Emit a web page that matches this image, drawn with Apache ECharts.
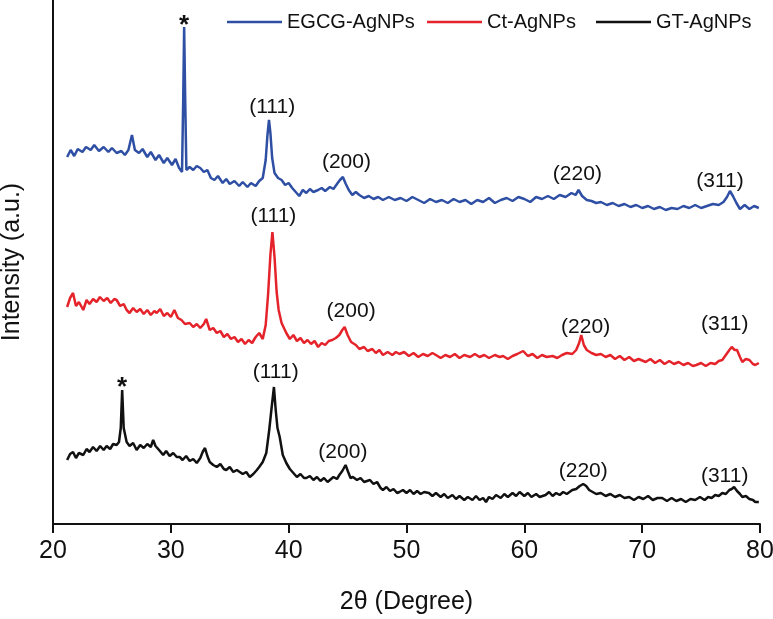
<!DOCTYPE html>
<html>
<head>
<meta charset="utf-8">
<script src="https://cdn.jsdelivr.net/npm/echarts@6/dist/echarts.min.js"></script>
<style>
html,body{margin:0;padding:0;background:#fff;}
#chart{width:773px;height:619px;}
</style>
</head>
<body>
<div id="chart"></div>
<script>
// X axis ticks
const xTicks = [20, 30, 40, 50, 60, 70, 80];
const seriesNames = ['EGCG-AgNPs', 'Ct-AgNPs', 'GT-AgNPs'];

// EGCG-AgNPs (offset trace, arbitrary units)
const egcgAngle = [21.2,21.5,21.8,22.1,22.5,22.8,23.2,23.5,23.9,24.3,24.7,25.0,25.4,25.8,26.1,26.4,26.7,26.95,27.3,27.6,28.0,28.3,28.7,29.0,29.4,29.7,30.1,30.4,30.7,30.95,31.05,31.13,31.22,31.32,31.6,31.9,32.2,32.5,32.8,33.1,33.4,33.7,34.0,34.4,34.7,35.0,35.4,35.8,36.1,36.5,36.8,37.2,37.5,37.8,38.05,38.2,38.33,38.45,38.6,38.8,39.1,39.4,39.7,40.0,40.3,40.6,40.9,41.2,41.5,41.8,42.1,42.5,42.8,43.1,43.5,43.8,44.1,44.35,44.6,44.85,45.1,45.4,45.7,46.0,46.4,46.8,47.2,47.6,48.0,48.5,49,49.5,50,50.5,51,51.5,52,52.5,53,53.5,54,54.5,55,55.5,56,56.5,57,57.5,58,58.5,59,59.5,60,60.5,61,61.5,62,62.5,63,63.5,64,64.35,64.6,64.9,65.3,65.7,66.1,66.5,67,67.5,68,68.5,69,69.5,70,70.5,71,71.5,72,72.5,73,73.5,74,74.5,75,75.5,76,76.5,76.9,77.2,77.45,77.7,78.0,78.3,78.7,79.1,79.5,79.9];
const egcgIntensity = [383,390,384,391,388,393,390,395,389,393,388,392,387,389,385,390,405,390,387,391,383,388,380,385,377,382,375,381,372,368,440,513,440,370,373,370,374,372,368,370,362,360,364,357,361,356,359,354,358,353,357,354,359,362,380,405,420,407,382,367,362,360,355,357,352,348,344,350,347,351,348,350,352,349,353,351,356,360,363,356,350,345,348,345,342,344,341,343,340,343,340,342,339,343,340,337,341,338,340,337,341,338,340,336,340,338,342,337,340,342,339,343,341,338,343,341,344,341,345,343,347,345,350,344,340,339,337,338,335,337,334,336,333,335,332,334,331,333,330,332,331,334,332,335,332,334,336,335,338,343,349,344,337,331,335,331,334,332];

// Ct-AgNPs
const ctAngle = [21.2,21.45,21.7,21.95,22.2,22.57,22.85,23.1,23.4,23.7,23.98,24.3,24.6,24.9,25.2,25.4,25.7,26.0,26.25,26.5,26.8,27.1,27.4,27.7,28.0,28.3,28.6,28.8,29.1,29.4,29.7,30.0,30.3,30.6,30.9,31.2,31.6,31.9,32.2,32.5,32.8,33.0,33.3,33.6,33.9,34.2,34.5,34.8,35.1,35.4,35.7,36.0,36.3,36.6,36.9,37.2,37.5,37.8,38.05,38.25,38.45,38.62,38.8,38.98,39.15,39.4,39.8,40.1,40.4,40.7,41.0,41.3,41.6,41.9,42.2,42.5,42.8,43.1,43.4,43.7,44.0,44.3,44.55,44.75,45.0,45.3,45.7,46.0,46.4,46.7,47.1,47.4,47.7,48.0,48.4,48.8,49.1,49.4,49.8,50.2,50.6,51.0,51.4,51.8,52.2,52.5,52.9,53.3,53.7,54.1,54.5,54.9,55.4,55.8,56.2,56.6,57.0,57.5,57.9,58.2,58.6,59.0,59.4,59.9,60.3,60.7,61.1,61.5,61.9,62.4,62.8,63.2,63.6,64.07,64.4,64.65,64.83,65.05,65.3,65.7,66.1,66.5,66.9,67.3,67.7,68.1,68.5,68.9,69.3,69.7,70.3,70.7,71.1,71.5,71.9,72.3,72.7,73.1,73.5,73.9,74.3,74.6,75.0,75.4,75.8,76.2,76.5,76.8,77.1,77.4,77.6,77.85,78.05,78.3,78.5,78.8,79.1,79.4,79.6,79.9];
const ctIntensity = [233,242,247,234,238,230,240,236,241,238,243,239,242,237,241,240,234,236,230,227,232,228,231,226,230,225,229,227,231,224,227,223,230,222,220,216,217,213,216,212,216,221,210,212,207,209,203,206,201,203,198,201,196,200,197,203,207,201,215,245,285,308,283,248,230,217,207,201,205,199,202,197,200,196,199,193,197,195,199,200,202,205,210,213,205,198,195,191,193,189,191,187,190,185,188,185,188,186,188,184,187,183,186,184,187,185,182,185,183,186,182,185,183,186,183,185,182,185,183,184,181,184,186,189,184,186,182,185,183,184,182,185,187,186,190,197,205,195,190,187,185,186,183,185,181,184,180,183,179,181,178,181,177,180,176,179,176,178,175,177,174,175,177,174,177,176,179,180,185,190,193,190,190,183,178,181,180,176,175,177];

// GT-AgNPs
const gtAngle = [21.2,21.45,21.7,21.95,22.2,22.57,22.85,23.1,23.4,23.7,24.0,24.3,24.55,24.85,25.1,25.4,25.6,25.75,25.87,26.0,26.25,26.5,26.8,27.1,27.4,27.7,28.0,28.3,28.5,28.7,29.0,29.35,29.6,29.9,30.2,30.5,30.75,31.0,31.3,31.6,31.9,32.2,32.5,32.7,32.9,33.1,33.3,33.6,33.9,34.2,34.5,34.7,35.0,35.3,35.6,35.85,36.1,36.4,36.7,37.0,37.3,37.5,37.8,38.1,38.35,38.55,38.75,38.9,39.05,39.24,39.5,39.8,40.1,40.4,40.7,41.0,41.3,41.5,41.8,42.1,42.4,42.7,43.0,43.3,43.5,43.8,44.1,44.3,44.55,44.83,45.05,45.25,45.45,45.8,46.1,46.4,46.9,47.2,47.5,47.8,48.0,48.3,48.6,48.9,49.2,49.4,49.7,50.0,50.3,50.6,50.9,51.2,51.5,51.9,52.2,52.5,52.9,53.2,53.5,53.9,54.2,54.5,54.9,55.2,55.6,55.9,56.2,56.5,56.75,57.0,57.3,57.6,58.0,58.3,58.6,59.0,59.3,59.6,60.0,60.3,60.6,61.0,61.3,61.8,62.1,62.4,62.7,63.0,63.3,63.6,64.07,64.4,64.7,65.0,65.25,65.5,65.8,66.1,66.5,66.9,67.3,67.7,68.1,68.5,68.9,69.3,69.7,70.1,70.5,70.9,71.3,71.7,72.1,72.5,72.9,73.3,73.7,74.1,74.5,74.9,75.3,75.6,75.9,76.2,76.5,76.8,77.1,77.4,77.6,77.8,78.05,78.3,78.5,78.8,79.1,79.4,79.6,79.9];
const gtIntensity = [80,86,88,82,87,85,91,88,93,89,94,90,94,91,96,95,98,112,150,112,98,94,97,90,95,92,96,93,100,94,90,85,89,84,87,83,83,80,84,79,81,77,82,88,92,84,78,75,73,76,71,70,73,68,70,68,66,68,63,66,70,73,78,87,110,132,153,130,112,103,85,77,71,67,63,66,62,62,64,60,63,59,62,58,60,63,61,65,69,75,68,62,63,60,62,58,60,56,58,52,50,53,49,51,47,48,50,47,50,46,49,46,48,47,44,47,43,46,42,45,41,44,40,43,40,44,40,42,38,43,41,45,42,46,43,47,44,48,44,47,43,46,43,45,48,44,47,45,48,46,50,51,54,56,54,50,48,46,47,44,46,43,45,42,43,40,43,41,44,40,42,42,39,42,39,41,38,41,40,43,40,43,42,45,44,47,46,50,51,53,49,46,43,44,41,40,38,38];

// Peak annotations: [text, angle, intensity]
const egcgPeaks = [['*',31.13,514],['(111)',38.6,433],['(200)',44.9,378],['(220)',64.5,366],['(311)',76.6,359]];
const ctPeaks = [['(111)',38.7,324],['(200)',45.3,229],['(220)',65.2,213],['(311)',77.0,216]];
const gtPeaks = [['*',25.87,152],['(111)',38.9,168],['(200)',44.6,88],['(220)',65.0,69],['(311)',77.0,64]];

const colors = ['#2E4FA3', '#E4232A', '#111111'];
const FONT = 'Liberation Sans, Arial, Helvetica, sans-serif';

function zip(a, b) { return a.map((v, i) => [v, b[i]]); }
function marks(list) {
  return {
    silent: true,
    symbol: 'circle',
    symbolSize: 0,
    label: {
      show: true, position: 'inside', color: '#111',
      fontFamily: FONT, fontSize: 21,
      formatter: p => p.name
    },
    data: list.map(m => ({
      name: m[0], coord: [m[1], m[2]],
      label: m[0] === '*' ? { fontSize: 26, fontWeight: 'bold' } : undefined
    }))
  };
}

const chart = echarts.init(document.getElementById('chart'), null, { renderer: 'canvas' });
const legendLefts = [222, 422, 591];
const option = {
  animation: false,
  backgroundColor: '#fff',
  grid: { left: 53, right: 13, top: 0, bottom: 95, containLabel: false, outerBoundsMode: 'none' },
  legend: seriesNames.map((n, i) => ({
    data: [n], left: legendLefts[i], top: 7,
    icon: 'rect', itemWidth: 55, itemHeight: 2.5, itemGap: 0,
    textStyle: { fontFamily: FONT, fontSize: 20, color: '#111' }
  })),
  xAxis: {
    type: 'value', min: 20, max: 80, interval: 10,
    name: '2θ (Degree)', nameLocation: 'middle', nameGap: 66,
    nameTextStyle: { fontFamily: FONT, fontSize: 25, color: '#111' },
    axisLine: { show: true, lineStyle: { color: '#111', width: 2 } },
    axisTick: { show: true, inside: false, length: 9, lineStyle: { color: '#111', width: 2 } },
    axisLabel: { margin: 15, fontFamily: FONT, fontSize: 25, color: '#111',
      formatter: v => xTicks.includes(v) ? String(v) : '' },
    splitLine: { show: false }
  },
  yAxis: {
    type: 'value', min: 16, max: 540,
    name: 'Intensity (a.u.)', nameLocation: 'middle', nameGap: 28,
    nameTextStyle: { fontFamily: FONT, fontSize: 25, color: '#111' },
    axisLine: { show: true, lineStyle: { color: '#111', width: 2 } },
    axisTick: { show: false },
    axisLabel: { show: false },
    splitLine: { show: false }
  },
  series: [
    { name: seriesNames[0], type: 'line', symbol: 'none', color: colors[0],
      lineStyle: { width: 2.5, color: colors[0] }, data: zip(egcgAngle, egcgIntensity), markPoint: marks(egcgPeaks) },
    { name: seriesNames[1], type: 'line', symbol: 'none', color: colors[1],
      lineStyle: { width: 2.5, color: colors[1] }, data: zip(ctAngle, ctIntensity), markPoint: marks(ctPeaks) },
    { name: seriesNames[2], type: 'line', symbol: 'none', color: colors[2],
      lineStyle: { width: 2.5, color: colors[2] }, data: zip(gtAngle, gtIntensity), markPoint: marks(gtPeaks) }
  ]
};
chart.setOption(option);
</script>
</body>
</html>
